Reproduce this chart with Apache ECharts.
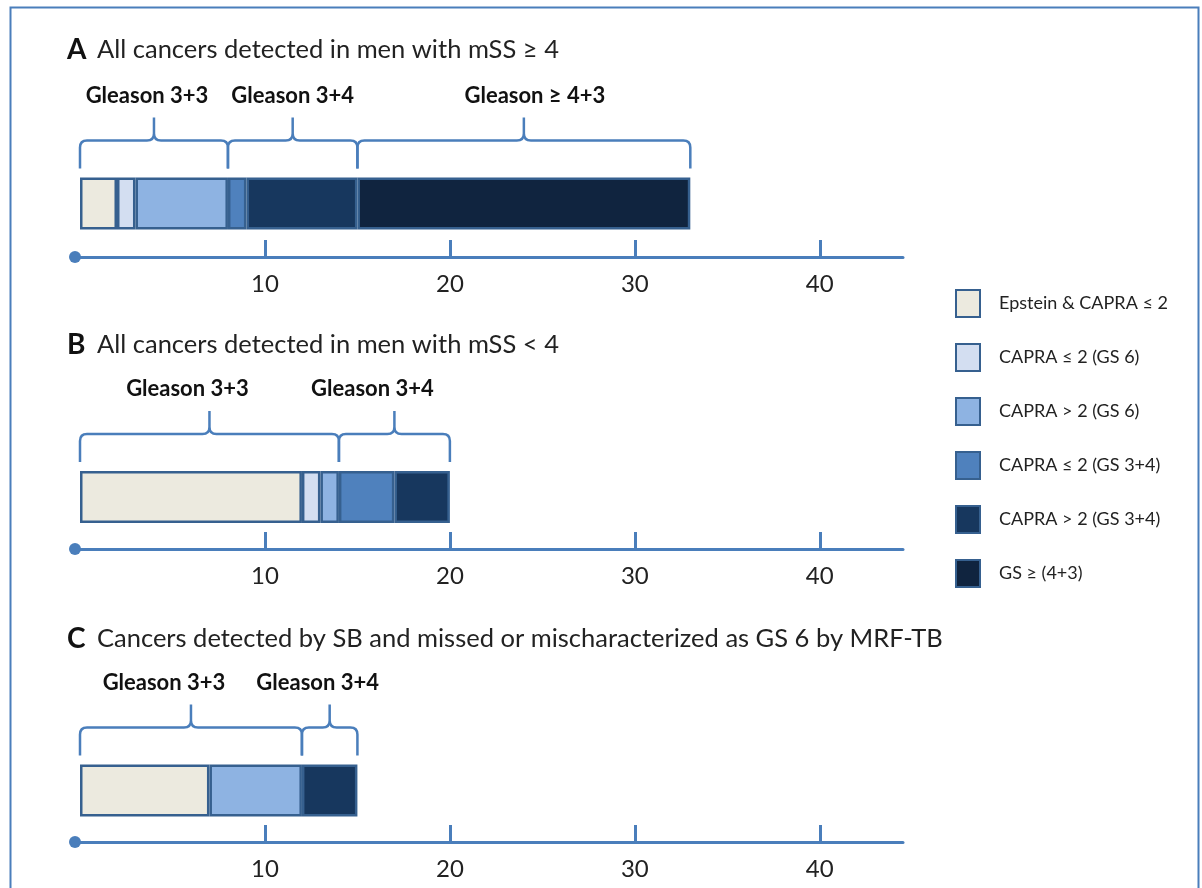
<!DOCTYPE html>
<html>
<head>
<meta charset="utf-8">
<title>Cancers by Gleason / CAPRA</title>
<script src="https://cdn.jsdelivr.net/npm/echarts@6/dist/echarts.min.js"></script>
<style>
  html, body { margin: 0; padding: 0; background: #fff; }
  #chart-container { width: 1202px; height: 888px; }
</style>
</head>
<body>
<div id="chart-container"></div>
<script>
// risk groups (legend order, also stacking order)
const groups = [
  'Epstein & CAPRA ≤ 2',
  'CAPRA ≤ 2 (GS 6)',
  'CAPRA > 2 (GS 6)',
  'CAPRA ≤ 2 (GS 3+4)',
  'CAPRA > 2 (GS 3+4)',
  'GS ≥ (4+3)'
];
const colors = ['#ECEADF', '#D3DEF1', '#8EB3E2', '#4F81BD', '#17375E', '#10243F'];

// number of cancers per group, one array per panel
const panelA = [2, 1, 5, 1, 6, 18];
const panelB = [12, 1, 1, 3, 3, 0];
const panelC = [7, 0, 5, 0, 3, 0];

// braces: [from, to, label]
const bracesA = [[0, 8, 'Gleason 3+3'], [8, 15, 'Gleason 3+4'], [15, 33, 'Gleason ≥ 4+3']];
const bracesB = [[0, 14, 'Gleason 3+3'], [14, 20, 'Gleason 3+4']];
const bracesC = [[0, 12, 'Gleason 3+3'], [12, 15, 'Gleason 3+4']];
// small horizontal nudges of the brace labels (px), as in the original figure
const labelShift = [[-7, 0, 11], [-22, -22], [-27, -12]];

const panelTitles = [
  ['A', 'All cancers detected in men with mSS ≥ 4'],
  ['B', 'All cancers detected in men with mSS < 4'],
  ['C', 'Cancers detected by SB and missed or mischaracterized as GS 6 by MRF-TB']
];
const tickValues = [10, 20, 30, 40];

const panels = [panelA, panelB, panelC];
const braces = [bracesA, bracesB, bracesC];

var dom = document.getElementById('chart-container');
var myChart = echarts.init(dom, null, { renderer: 'canvas' });

const FONT = 'Lato, "Open Sans", sans-serif';
const lineColor = '#4A7EBB';

const grids = [
  { left: 80, width: 823, top: 150, height: 107 },
  { left: 80, width: 823, top: 445, height: 104 },
  { left: 80, width: 823, top: 739, height: 103 }
];
const titleTops = [31, 326, 620];

var xAxes = [], yAxes = [], series = [];
grids.forEach(function (g, i) {
  xAxes.push({
    type: 'value', gridIndex: i, min: 0, max: 44.5,
    splitLine: { show: false },
    axisLine: {
      show: true,
      lineStyle: { color: lineColor, width: 3 },
      symbol: ['circle', 'none'], symbolSize: [12, 12], symbolOffset: [-5, 0]
    },
    axisTick: {
      show: true, inside: true, length: 17, customValues: tickValues,
      lineStyle: { color: lineColor, width: 3 }
    },
    axisLabel: {
      customValues: tickValues, margin: 15,
      fontSize: 24, color: '#222', fontFamily: FONT
    }
  });
  yAxes.push({
    type: 'category', gridIndex: i, data: [panelTitles[i][0]],
    show: false
  });
  groups.forEach(function (name, k) {
    series.push({
      name: name, type: 'bar', stack: 'p' + i,
      xAxisIndex: i, yAxisIndex: i,
      barWidth: 52,
      itemStyle: { color: colors[k], borderColor: '#36608F', borderWidth: 2.5 },
      data: [panels[i][k] || null]
    });
  });
  const shifts = labelShift[i];
  series.push({
    type: 'custom', xAxisIndex: i, yAxisIndex: i, silent: true,
    data: braces[i],
    renderItem: function (params, api) {
      var a = api.coord([api.value(0), 0]);
      var b = api.coord([api.value(1), 0]);
      var x0 = a[0], x1 = b[0], cy = a[1];
      var yEnd = cy - 35, yBar = cy - 63, yPeak = cy - 86, r = 7;
      var xm = (x0 + x1) / 2;
      var path = 'M' + x0 + ',' + yEnd +
        ' L' + x0 + ',' + (yBar + r) +
        ' Q' + x0 + ',' + yBar + ' ' + (x0 + r) + ',' + yBar +
        ' L' + (xm - r) + ',' + yBar +
        ' Q' + xm + ',' + yBar + ' ' + xm + ',' + (yBar - r) +
        ' L' + xm + ',' + yPeak +
        ' M' + xm + ',' + (yBar - r) +
        ' Q' + xm + ',' + yBar + ' ' + (xm + r) + ',' + yBar +
        ' L' + (x1 - r) + ',' + yBar +
        ' Q' + x1 + ',' + yBar + ' ' + x1 + ',' + (yBar + r) +
        ' L' + x1 + ',' + yEnd;
      return {
        type: 'group',
        children: [
          {
            type: 'path',
            shape: { pathData: path },
            style: { fill: null, stroke: lineColor, lineWidth: 2.5 }
          },
          {
            type: 'text',
            style: {
              text: api.value(2), x: xm + (shifts[params.dataIndex] || 0), y: cy - 108,
              align: 'center', verticalAlign: 'middle',
              font: 'bold 22px ' + FONT, fill: '#111'
            }
          }
        ]
      };
    }
  });
});

var option = {
  animation: false,
  backgroundColor: '#fff',
  title: panelTitles.map(function (t, i) {
    return {
      left: 62, top: titleTops[i],
      text: '{l|' + t[0] + '}{t|' + t[1] + '}',
      textStyle: {
        fontWeight: 'normal',
        rich: {
          l: { fontSize: 28, fontWeight: 'bold', color: '#111', fontFamily: FONT, width: 30 },
          t: { fontSize: 25.5, fontWeight: 'normal', color: '#222', fontFamily: FONT }
        }
      }
    };
  }),
  legend: {
    orient: 'vertical', left: 950, top: 284,
    data: groups, icon: 'rect',
    itemWidth: 24, itemHeight: 27, itemGap: 25,
    selectedMode: false,
    textStyle: { fontSize: 18, color: '#222', fontFamily: FONT, padding: [0, 0, 0, 14] }
  },
  graphic: [{
    type: 'rect', left: 8, top: 5, silent: true,
    shape: { width: 1188, height: 900 },
    style: { fill: null, stroke: lineColor, lineWidth: 2 }
  }],
  grid: grids,
  xAxis: xAxes,
  yAxis: yAxes,
  series: series
};

if (option && typeof option === 'object') {
  myChart.setOption(option);
}
window.addEventListener('resize', myChart.resize);
</script>
</body>
</html>
